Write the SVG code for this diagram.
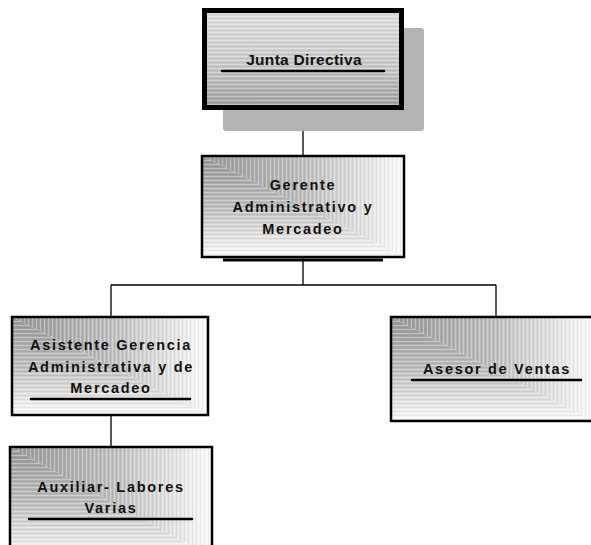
<svg xmlns="http://www.w3.org/2000/svg" width="591" height="545" viewBox="0 0 591 545">
<style>
.lbl{font-family:"Liberation Sans",Arial,sans-serif;font-weight:bold;font-size:14.5px;letter-spacing:1.7px;fill:#111;text-anchor:middle}
.ttl{font-family:"Liberation Sans",Arial,sans-serif;font-weight:bold;font-size:15.5px;letter-spacing:0.3px;fill:#111;text-anchor:middle}
.frame{fill:none;stroke:#000;stroke-width:2.5}
.ul{stroke:#000;stroke-width:2.5;stroke-linecap:round}
.conn{stroke:#000;stroke-width:1.3;fill:none}
.up{fill:url(#gx)}
.lo{fill:url(#gy)}
.upS{fill:url(#vstripes)}
.loS{fill:url(#hstripes)}
</style>
<defs>
<linearGradient id="gx" x1="0" y1="0" x2="1" y2="0">
<stop offset="0" stop-color="#979797"/>
<stop offset="0.5" stop-color="#bdbdbd"/>
<stop offset="1" stop-color="#fbfbfb"/>
</linearGradient>
<linearGradient id="gy" x1="0" y1="0" x2="0" y2="1">
<stop offset="0" stop-color="#979797"/>
<stop offset="0.5" stop-color="#bdbdbd"/>
<stop offset="1" stop-color="#fbfbfb"/>
</linearGradient>
<linearGradient id="gj" x1="0" y1="0" x2="0" y2="1">
<stop offset="0" stop-color="#e2e2e2"/>
<stop offset="0.6" stop-color="#c6c6c6"/>
<stop offset="1" stop-color="#9c9c9c"/>
</linearGradient>
<pattern id="vstripes" patternUnits="userSpaceOnUse" width="4" height="4">
<rect x="0" y="0" width="1" height="4" fill="#fff" fill-opacity="0.35"/>
<rect x="2" y="0" width="1" height="4" fill="#000" fill-opacity="0.06"/>
</pattern>
<pattern id="hstripes" patternUnits="userSpaceOnUse" width="4" height="4">
<rect x="0" y="0" width="4" height="1" fill="#fff" fill-opacity="0.35"/>
<rect x="0" y="2" width="4" height="1" fill="#000" fill-opacity="0.06"/>
</pattern>
</defs>

<g id="connectors">
<line class="conn" x1="303" y1="110" x2="303" y2="156"/>
<line class="conn" x1="303" y1="257" x2="303" y2="285"/>
<line class="conn" x1="111" y1="285" x2="496" y2="285"/>
<line class="conn" x1="111" y1="285" x2="111" y2="317"/>
<line class="conn" x1="496" y1="285" x2="496" y2="317"/>
<line class="conn" x1="111" y1="415" x2="111" y2="447"/>
</g>

<g id="junta">
<rect x="223" y="28" width="201" height="103" rx="3" fill="#b3b3b3"/>
<rect x="202" y="8" width="202" height="102" fill="url(#gj)"/>
<rect x="202" y="8" width="202" height="102" fill="url(#hstripes)"/>
<rect x="204.5" y="10.5" width="197" height="97" fill="none" stroke="#000" stroke-width="5"/>
<text class="ttl" x="304" y="65">Junta Directiva</text>
<line class="ul" x1="222" y1="71" x2="384" y2="71" stroke-width="3"/>
</g>

<g id="gerente" transform="translate(202,156)">
<polygon class="up" points="0,0 202,0 202,101"/>
<polygon class="lo" points="0,0 0,101 202,101"/>
<polygon class="upS" points="0,0 202,0 202,101"/>
<polygon class="loS" points="0,0 0,101 202,101"/>
<rect class="frame" x="0" y="0" width="202" height="101"/>
<line x1="21" y1="104" x2="181" y2="104" stroke="#000" stroke-width="3"/>
<text class="lbl" x="101" y="34">Gerente</text>
<text class="lbl" x="101" y="56">Administrativo y</text>
<text class="lbl" x="101" y="78">Mercadeo</text>
</g>

<g id="asistente" transform="translate(12,317)">
<polygon class="up" points="0,0 196,0 196,98"/>
<polygon class="lo" points="0,0 0,98 196,98"/>
<polygon class="upS" points="0,0 196,0 196,98"/>
<polygon class="loS" points="0,0 0,98 196,98"/>
<rect class="frame" x="0" y="0" width="196" height="98"/>
<text class="lbl" x="99" y="33">Asistente Gerencia</text>
<text class="lbl" x="99" y="55">Administrativa y de</text>
<text class="lbl" x="99" y="76">Mercadeo</text>
<line class="ul" x1="19" y1="82" x2="178" y2="82"/>
</g>

<g id="asesor" transform="translate(391,317)">
<polygon class="up" points="0,0 202,0 202,104"/>
<polygon class="lo" points="0,0 0,104 202,104"/>
<polygon class="upS" points="0,0 202,0 202,104"/>
<polygon class="loS" points="0,0 0,104 202,104"/>
<rect class="frame" x="0" y="0" width="202" height="104" stroke-width="3"/>
<text class="lbl" x="106" y="57">Asesor de  Ventas</text>
<line class="ul" x1="21" y1="63" x2="190" y2="63"/>
</g>

<g id="auxiliar" transform="translate(10,447)">
<polygon class="up" points="0,0 202,0 202,110"/>
<polygon class="lo" points="0,0 0,110 202,110"/>
<polygon class="upS" points="0,0 202,0 202,110"/>
<polygon class="loS" points="0,0 0,110 202,110"/>
<rect class="frame" x="0" y="0" width="202" height="110"/>
<text class="lbl" x="101" y="45">Auxiliar- Labores</text>
<text class="lbl" x="101" y="66">Varias</text>
<line class="ul" x1="19" y1="72" x2="182" y2="72"/>
</g>
</svg>
